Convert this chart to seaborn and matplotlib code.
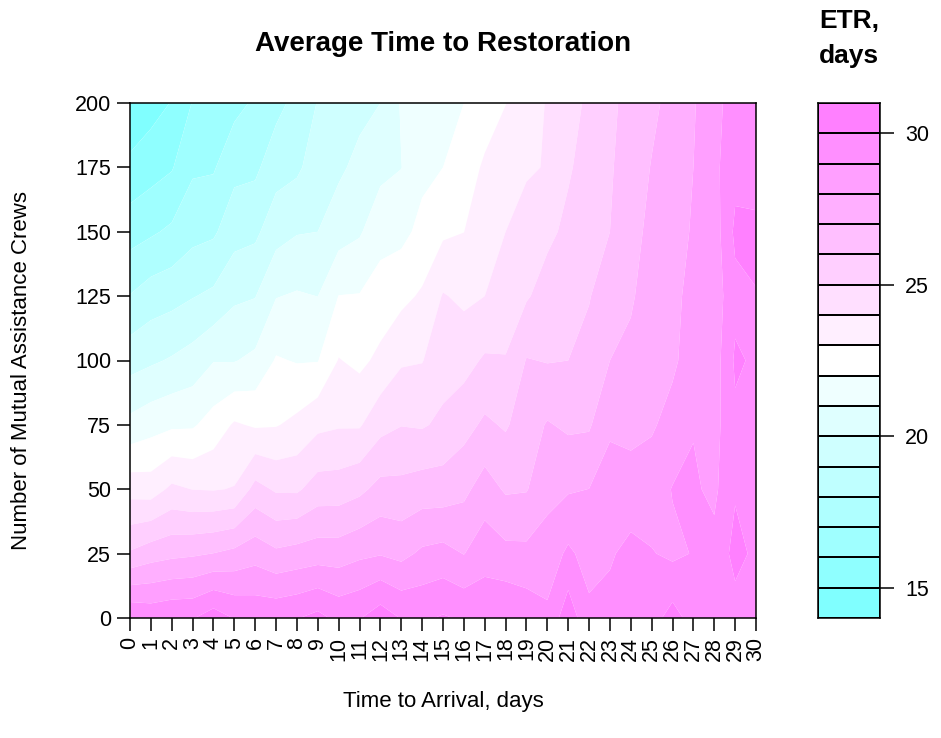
import colorsys
import numpy as np
import pandas as pd
import matplotlib
matplotlib.use("Agg")
import matplotlib.pyplot as plt
from matplotlib.colors import ListedColormap
import seaborn as sns

# ---------------- data ----------------
x_days = list(range(0, 31))
y_crews = [0, 25, 50, 75, 100, 125, 150, 175, 200]

etr_y0 = [29.95, 29.72, 29.9, 29.93, 30.53, 29.95, 29.77, 29.79, 29.95, 30.3, 29.74,
          29.94, 30.55, 29.95, 29.86, 30.1, 29.88, 29.73, 29.95, 29.64, 29.22,
          30.63, 29.24, 29.35, 29.6, 29.6, 30.4, 29.6, 29.7, 29.6, 29.85]
etr_y25 = [26.12, 26.55, 26.75, 26.86, 27.02, 27.27, 27.6, 27.19, 27.37, 27.51, 27.51,
           27.79, 27.93, 27.72, 28.18, 28.33, 27.97, 28.59, 28.28, 28.25, 28.43,
           29.19, 28.62, 28.88, 29.31, 29.06, 28.8, 29.05, 29.3, 30.3, 29.8]
etr_y50 = [23.61, 23.51, 24.21, 23.98, 23.94, 24.05, 25.35, 24.87, 24.85, 25.46, 25.48,
           25.77, 26.32, 26.29, 26.48, 26.48, 26.76, 27.45, 26.88, 26.94, 27.71,
           27.9, 28.01, 28.4, 28.39, 28.45, 29.05, 29.13, 28.8, 29.9, 29.9]
etr_y75 = [21.29, 21.63, 21.84, 21.88, 22.42, 23.12, 22.88, 22.94, 23.24, 23.77, 23.91,
           23.9, 24.68, 24.97, 24.9, 25.2, 25.65, 26.18, 25.89, 26.52, 27.08,
           26.83, 26.88, 27.86, 27.74, 27.9, 28.3, 28.95, 28.66, 29.8, 29.85]
etr_y100 = [19.6, 19.85, 20.1, 20.41, 20.96, 20.95, 21.23, 22.09, 21.94, 21.96, 23.05,
            22.77, 23.23, 23.88, 23.96, 24.59, 24.65, 25.13, 25.05, 26.05, 25.95,
            26.0, 26.3, 27.0, 27.3, 27.75, 27.85, 28.4, 28.5, 30.15, 29.85]
etr_y125 = [18.04, 18.49, 18.67, 18.95, 19.2, 19.83, 19.96, 20.96, 21.1, 20.99, 22.02,
            22.05, 22.44, 22.74, 23.13, 24.07, 23.8, 24.0, 24.52, 24.9, 25.4,
            25.7, 25.95, 26.5, 26.85, 27.6, 27.75, 28.3, 28.46, 29.71, 29.95]
etr_y150 = [16.59, 16.86, 17.18, 17.69, 17.85, 18.62, 18.79, 19.62, 19.94, 20.0, 20.58,
            20.89, 21.65, 21.73, 22.27, 22.83, 22.99, 23.57, 24.0, 24.35, 24.8,
            25.2, 25.6, 26.0, 26.6, 27.3, 27.6, 28.1, 28.5, 30.2, 30.3]
etr_y175 = [15.24, 15.6, 15.92, 16.85, 16.9, 17.72, 17.8, 18.6, 18.82, 19.52, 19.81,
            20.29, 20.73, 20.98, 21.76, 22.0, 22.49, 23.15, 23.49, 23.9, 24.05,
            24.9, 25.35, 25.9, 26.45, 27.05, 27.45, 28.0, 28.75, 29.7, 29.4]
etr_y200 = [14.2, 14.6, 15.05, 16.05, 16.4, 16.7, 17.15, 17.7, 18.3, 19.05, 19.4,
            19.7, 20.0, 21.1, 21.4, 21.7, 22.0, 22.48, 22.98, 23.52, 24.07,
            24.62, 25.19, 25.8, 26.31, 26.78, 27.31, 27.91, 28.67, 29.47, 29.5]

levels = list(range(14, 32))
key_ticks = [15, 20, 25, 30]
y_ticks = [0, 25, 50, 75, 100, 125, 150, 175, 200]
x_ticks = list(range(0, 31))

title = "Average Time to Restoration"
x_label = "Time to Arrival, days"
y_label = "Number of Mutual Assistance Crews"
key_title_1 = "ETR,"
key_title_2 = "days"


# ---------------- R cm.colors() palette ----------------
def cm_colors(n):
    even = n % 2 == 0
    k = n // 2
    l1 = k + 1 - int(even)
    l2 = n - k + int(even)
    cols = []
    for s in np.linspace(0.5, (0.5 / k) if even else 0.0, l1):
        cols.append(colorsys.hsv_to_rgb(6 / 12, s, 1.0))
    for s in np.linspace(0.0, 0.5, l2)[1:]:
        cols.append(colorsys.hsv_to_rgb(10 / 12, s, 1.0))
    return cols


band_colors = cm_colors(len(levels) - 1)

# ---------------- table ----------------
rows = {0: etr_y0, 25: etr_y25, 50: etr_y50, 75: etr_y75, 100: etr_y100,
        125: etr_y125, 150: etr_y150, 175: etr_y175, 200: etr_y200}
records = []
for yv in y_crews:
    for xv, zv in zip(x_days, rows[yv]):
        records.append({"arrival": xv, "crews": yv, "etr": zv})
df = pd.DataFrame(records)
grid = df.pivot(index="crews", columns="arrival", values="etr")

# ---------------- figure ----------------
sns.set_theme(style="ticks")
plt.rcParams["font.family"] = ["Liberation Sans", "DejaVu Sans"]
for key in ["text.color", "axes.labelcolor", "xtick.color", "ytick.color",
            "axes.edgecolor"]:
    plt.rcParams[key] = "black"

TICK_FS = 15.5
LAB_FS = 16
TITLE_FS = 20
KEY_TITLE_FS = 19

W, H = 941, 738
fig = plt.figure(figsize=(W / 100, H / 100), dpi=100)
fig.patch.set_facecolor("white")

L, R, T, B = 130, 756, 103, 618
ax = fig.add_axes([L / W, 1 - B / H, (R - L) / W, (B - T) / H])
ax.contourf(grid.columns.values, grid.index.values, grid.values,
            levels=levels, colors=band_colors, antialiased=True)
ax.set_xlim(0, 30)
ax.set_ylim(0, 200)
ax.set_xticks(x_ticks)
ax.set_xticklabels([str(v) for v in x_ticks], rotation=90, fontsize=TICK_FS)
ax.set_yticks(y_ticks)
ax.set_yticklabels([str(v) for v in y_ticks], fontsize=TICK_FS)
ax.tick_params(direction="out", length=9.5, width=1.1, color="black",
               labelcolor="black", pad=4)
for sp in ax.spines.values():
    sp.set_visible(True)
    sp.set_color("black")
    sp.set_linewidth(1.1)
ax.grid(False)

# ---------------- key (colour legend) via seaborn heatmap ----------------
KL, KR = 818, 880
kax = fig.add_axes([KL / W, 1 - B / H, (KR - KL) / W, (B - T) / H])
mids = [(levels[i] + levels[i + 1]) / 2 for i in range(len(levels) - 1)]
key_df = pd.DataFrame({"ETR": mids})
sns.heatmap(key_df, ax=kax, cmap=ListedColormap(band_colors),
            vmin=levels[0], vmax=levels[-1], cbar=False,
            linewidths=1.1, linecolor="black", xticklabels=False)
kax.set_ylim(0, len(mids))
kax.set_xlim(0, 1)
kax.yaxis.tick_right()
kax.set_yticks([t - levels[0] for t in key_ticks])
kax.set_yticklabels([str(t) for t in key_ticks], rotation=0, fontsize=TICK_FS)
kax.set_ylabel("")
kax.set_xlabel("")
kax.tick_params(axis="y", direction="out", length=10, width=1.1,
                color="black", labelcolor="black", pad=8, left=False, right=True)
kax.tick_params(axis="x", bottom=False, labelbottom=False)
for sp in kax.spines.values():
    sp.set_visible(True)
    sp.set_color("black")
    sp.set_linewidth(1.1)

# ---------------- texts ----------------
cx = (L + R) / 2 / W
fig.text(cx, 1 - 44 / H, title, ha="center", va="center",
         fontsize=TITLE_FS, fontweight="bold")
fig.text(cx, 1 - 701 / H, x_label, ha="center", va="center", fontsize=LAB_FS)
fig.text(22 / W, 1 - 370 / H, y_label, ha="center", va="center",
         rotation=90, fontsize=LAB_FS)
kcx = (KL + KR) / 2 / W
fig.text(kcx, 1 - 21 / H, key_title_1, ha="center", va="center",
         fontsize=KEY_TITLE_FS, fontweight="bold")
fig.text(kcx, 1 - 56 / H, key_title_2, ha="center", va="center",
         fontsize=KEY_TITLE_FS, fontweight="bold")

fig.savefig("out.png", dpi=100, facecolor="white")
